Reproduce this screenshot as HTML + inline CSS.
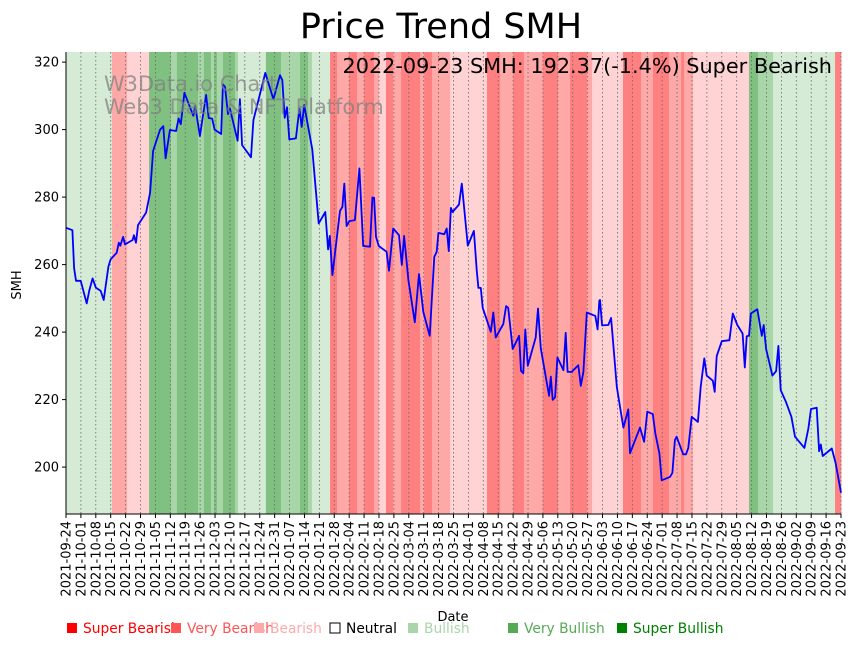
<!DOCTYPE html>
<html><head><meta charset="utf-8">
<style>
html,body{margin:0;padding:0;background:#fff;}
svg{display:block;font-family:"DejaVu Sans","Liberation Sans",sans-serif;}
</style></head>
<body>
<svg id="chart" width="857" height="646" viewBox="0 0 857 646" xmlns="http://www.w3.org/2000/svg">
<text x="441" y="38" font-size="35" text-anchor="middle" fill="#000">Price Trend SMH</text>
<g id="plot"></g>
<text x="832" y="73" font-size="20.8" text-anchor="end" fill="#000">2022-09-23 SMH: 192.37(-1.4%) Super Bearish</text>
<text x="104" y="91" font-size="20.9" fill="#808080" fill-opacity="0.75">W3Data.io Chart</text>
<text x="104" y="114" font-size="20.9" fill="#808080" fill-opacity="0.75">Web3 Data &amp; NFT Platform</text>
<text x="0" y="0" font-size="13" text-anchor="middle" transform="translate(21,285) rotate(-90)">SMH</text>
<text x="453" y="621" font-size="13" text-anchor="middle">Date</text>
<g id="legend"></g>
</svg>
<script>
// ---- data ----
const startDate = "2021-09-24";
const totalDays = 364;
const yTicks = [200, 220, 240, 260, 280, 300, 320];
const priceDays = [0,3.0,3.8,4.7,6.9,9.7,10.9,12.5,14.0,16.3,17.7,19.9,21.0,23.8,24.8,25.5,26.8,27.7,31.3,31.9,32.9,33.8,37.6,39.5,40.9,44.2,45.7,46.8,48.8,51.7,52.9,53.9,55.6,59.8,60.7,62.9,65.8,67.0,68.6,69.8,72.9,73.7,74.7,76.1,77.0,80.6,81.7,82.7,86.9,88.0,93.6,95.0,97.4,100.5,101.6,102.7,103.8,104.9,108.0,109.6,110.7,111.9,115.7,118.7,121.8,123.1,123.9,125.1,128.7,129.8,130.7,131.8,133.1,135.7,137.8,139.6,142.8,143.9,144.7,145.6,146.9,150.6,151.7,153.7,156.4,157.7,158.8,160.8,163.8,165.8,167.8,170.8,173.0,174.1,174.9,177.7,178.8,179.8,180.8,181.6,184.6,185.9,188.7,191.6,192.9,193.7,194.8,195.7,199.5,200.7,201.8,205.4,206.7,207.7,209.8,212.8,213.7,214.8,215.7,216.9,220.6,221.7,223.0,226.9,227.7,228.6,229.7,230.8,233.6,234.7,235.6,237.5,240.6,241.8,243.0,244.6,248.6,249.7,250.5,250.8,251.8,254.7,256.0,258.7,261.8,264.1,264.9,269.6,271.5,273.0,275.6,276.8,278.7,279.8,283.7,284.8,286.0,286.8,289.9,291.2,292.3,293.9,296.8,298.1,299.8,300.9,303.8,304.7,305.6,308.0,311.6,313.2,315.3,317.8,318.8,319.7,320.8,321.7,324.7,326.8,327.7,328.8,331.8,333.5,334.6,335.7,338.2,340.7,342.4,346.8,348.7,349.9,352.6,353.7,354.5,355.4,359.7,361.5,364];
const priceValues = [270.9,270.2,259,255.2,255.2,248.5,252.2,255.9,253.2,252.2,249.5,259.4,261.6,263.5,266.5,265.6,268.2,266,267.3,268.7,266.5,271.7,275.4,281.3,293.7,300,301,291.5,299.9,299.6,303.3,301.6,310.9,304.1,307,298.1,310.3,303.4,303.3,300,298.7,313.4,312.7,304.6,306.3,296.7,309,295.4,291.8,302.8,316.8,313.9,309,316.1,314.7,303.5,306.6,297.1,297.4,306.3,300.8,307.3,294.1,272.2,275.6,264.5,268.5,256.9,275.9,277.1,284,271.4,272.9,273.2,288.5,265.5,265.3,279.9,279.8,268.2,265.5,263.8,258.2,270.7,268.7,259.9,268.5,255.4,242.9,257.2,246,238.9,262.3,263.8,269.4,269,270.7,264,276.8,275.6,277.8,284,265.6,270,258.4,253.1,253.1,247.2,240.1,245.8,238.4,242.4,247.7,247.2,235,238.9,228.5,227.8,240.8,230,238.4,247,235.2,221.1,226.8,219.9,220.7,232.5,228.7,239.8,228.2,228.2,230.2,224.1,228.2,245.8,244.8,240.8,249.3,249.5,242,242.1,244.2,223.8,211.7,217.1,204.1,211.7,207.5,216.4,215.7,210,204.1,196.1,197.1,198.3,208,209,203.8,203.8,205.7,214.9,213.4,223.8,232.2,227.1,225.6,222.3,232.9,237.3,237.6,245.5,242.1,239.6,229.5,238.8,238.9,245.5,246.8,238.9,242.1,235,227.1,228.4,235.9,222.8,219.2,214.9,209,205.7,211.5,217.2,217.6,204.7,206.7,203.3,205.5,201.1,192.4];
// sentiment bands: start day and level (-2 strong bearish ... +2 strong bullish)
const bandStarts = [0,21.6,28.7,39,49.3,52.1,62,64.8,68.1,69.5,70.9,73.7,79.4,80.8,93.9,101,109.9,113.7,115.5,124,127.3,132.9,136.7,140,144.7,147,150.3,153.6,157.4,166.3,168.2,171.9,180.4,197.7,203.9,210,215.1,217.9,224,231.1,236.7,244.7,247.1,261.6,270.1,275.7,283.2,288.9,290.3,294.5,320.8,325,332.1,361.2];
const bandLevels = [0.5,-1,-0.5,2,1,2,1,2,1,2,1,2,1,0.5,2,1,2,1,0.5,-2,-1,-2,-1,-2,-1,-0.5,-2,-1,-2,-1,-2,-1,-0.5,-2,-1,-2,-1,-1,-2,-1,-2,-1,-0.5,-2,-1,-2,-1,-2,-1,-0.5,2,1,0.5,-2];
const legendLabels = ["Super Bearish","Very Bearish","Bearish","Neutral","Bullish","Very Bullish","Super Bullish"];
const legendColors = ["#ff0000","#ff5555","#ffaaaa","#ffffff","#aad5aa","#55aa55","#008000"];

// ---- layout ----
const L=66, R=841, T=52, B=514;
const yMin=186.1, yMax=323;
const NS="http://www.w3.org/2000/svg";
const xs = d => L + d/totalDays*(R-L);
const ys = v => B - (v-yMin)/(yMax-yMin)*(B-T);
const plot = document.getElementById('plot');
function mk(tag, attrs, parent){const e=document.createElementNS(NS,tag);for(const k in attrs)e.setAttribute(k,attrs[k]);(parent||plot).appendChild(e);return e;}
const bandColor = lv => ({"-2":"#ff8080","-1":"#ffa8a8","-0.5":"#ffd3d3","2":"#80c080","1":"#a9d6a9","0.5":"#d5ebd5"})[String(lv)];

for(let i=0;i<bandStarts.length;i++){
  const s=bandStarts[i], e=(i+1<bandStarts.length)?bandStarts[i+1]:totalDays;
  const r=mk('rect',{x:xs(s),y:T,width:Math.max(0,xs(e)-xs(s))+0.3,height:B-T,fill:bandColor(bandLevels[i])});
  
  
}
const d0 = new Date(startDate+"T00:00:00Z");
for(let d=0; d<=totalDays; d+=7){
  const x=xs(d);
  const g=mk('line',{x1:x,y1:T,x2:x,y2:B,stroke:'#666','stroke-width':0.8,'stroke-dasharray':'1.5,2.5'});
  
  
  const t=mk('line',{x1:x,y1:B,x2:x,y2:B+4,stroke:'#000','stroke-width':1});
  
  
  const dt=new Date(d0.getTime()+d*86400000).toISOString().slice(0,10);
  const lb=mk('text',{x:0,y:0,'font-size':13,'text-anchor':'end',transform:`translate(${x+4.5},${B+7}) rotate(-90)`});
  lb.textContent=dt;
  
  
}
yTicks.forEach(v=>{
  const y=ys(v);
  const t=mk('line',{x1:L-4,y1:y,x2:L,y2:y,stroke:'#000','stroke-width':1});
  
  
  const lb=mk('text',{x:L-7,y:y+4.5,'font-size':13,'text-anchor':'end'});
  lb.textContent=v;
  
  
});
const pts=priceDays.map((d,i)=>xs(d).toFixed(1)+','+ys(priceValues[i]).toFixed(1)).join(' ');
const line=mk('polyline',{points:pts,fill:'none',stroke:'#0000ff','stroke-width':1.8,'stroke-linejoin':'round'});


const sl=mk('line',{x1:L,y1:T,x2:L,y2:B,stroke:'#000','stroke-width':1});


const sb=mk('line',{x1:L,y1:B,x2:R,y2:B,stroke:'#000','stroke-width':1});


const legend=document.getElementById('legend');
const legX=[66,170,253,329,407,507,616];
legendLabels.forEach((lab,i)=>{
  const g=mk('g',{},legend);
  
  
  mk('rect',{x:legX[i]+1,y:623,width:10,height:10,fill:legendColors[i],stroke:i===3?'#000':'none','stroke-width':1},g);
  const t=mk('text',{x:legX[i]+17,y:633,'font-size':13.8,fill:i===3?'#000':legendColors[i]},g);
  t.textContent=lab;
});
</script>
</body></html>
